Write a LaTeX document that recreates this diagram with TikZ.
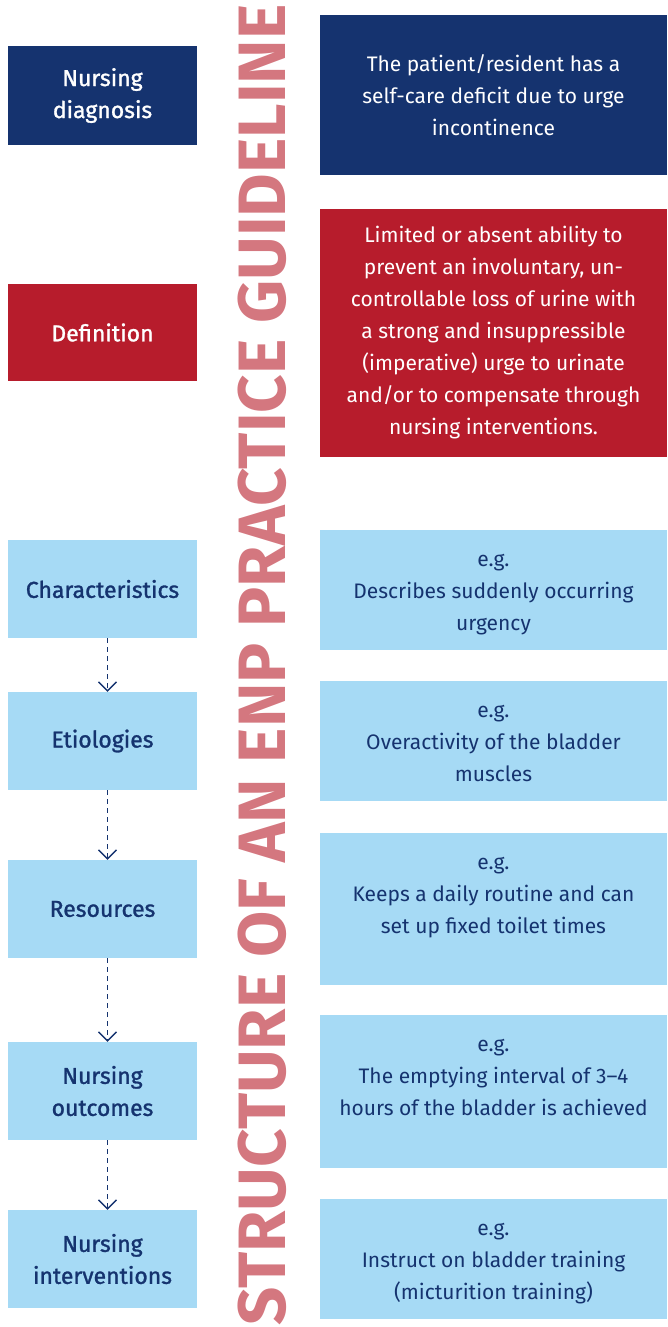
\documentclass[tikz,border=0pt]{standalone}
\usepackage{fontspec}
\setmainfont{Fira Sans}
\newfontfamily\medio{Fira Sans}[FakeBold=1.2]
\usetikzlibrary{arrows.meta, positioning}

\definecolor{navy}{HTML}{15336F}
\definecolor{rosso}{HTML}{B71C2C}
\definecolor{azzurro}{HTML}{A6DAF5}
\definecolor{rosa}{HTML}{D4777F}

\begin{document}
\begin{tikzpicture}[
            x=1pt, y=-1pt,
            >={Straight Barb[length=9pt, width=18pt, line width=1.3pt]},
            every node/.style={font=\fontsize{21}{32}\selectfont},
            voce/.style={rectangle, inner sep=0pt, minimum width=189pt, minimum height=98pt, align=center, font=\medio\fontsize{23}{32}\selectfont},
            voce_scura/.style={voce, fill=navy, text=white},
            voce_rossa/.style={voce, fill=rosso, text=white},
            voce_chiara/.style={voce, fill=azzurro, text=navy},
            blocco/.style={rectangle, inner sep=0pt, minimum width=347pt, align=center},
            esempio/.style={rectangle, inner sep=0pt, minimum width=347pt, minimum height=120pt, fill=azzurro},
            testo/.style={inner sep=0pt, align=center, text=navy, anchor=north},
            passo/.style={->, dashed, dash pattern=on 5pt off 4pt, line width=1.2pt, draw=navy}
        ]

        \useasboundingbox (0,0) rectangle (667,1327);

        % Titolo verticale
        \node[rotate=90, text=rosa, font=\fontsize{67}{67}\selectfont\bfseries] (titolo) at (262, 665) {STRUCTURE OF AN ENP PRACTICE GUIDELINE};

        % Colonna sinistra
        \node[voce_scura, minimum height=99pt] (diagnosi) at (102.5, 95.5) {Nursing\\diagnosis};
        \node[voce_rossa, minimum height=97pt] (definizione) at (102.5, 332.5) {Definition};
        \node[voce_chiara] (caratt) at (102.5, 589) {Characteristics};
        \node[voce_chiara] (eziol) at (102.5, 741) {Etiologies};
        \node[voce_chiara] (risorse) at (102.5, 909) {Resources};
        \node[voce_chiara] (esiti) at (102.5, 1091) {Nursing\\outcomes};
        \node[voce_chiara] (interv) at (102.5, 1259) {Nursing\\interventions};

        % Frecce tratteggiate
        \draw[passo] ([xshift=5pt]caratt.south) -- ([xshift=5pt]eziol.north);
        \draw[passo] ([xshift=5pt]eziol.south) -- ([xshift=5pt]risorse.north);
        \draw[passo] ([xshift=5pt]risorse.south) -- ([xshift=5pt]esiti.north);
        \draw[passo] ([xshift=5pt]esiti.south) -- ([xshift=5pt]interv.north);

        % Colonna destra
        \node[blocco, fill=navy, text=white, minimum height=160pt] (diagnosi_d) at (493.5, 95) {The patient/resident has a\\self-care deficit due to urge\\incontinence};
        \node[blocco, fill=rosso, text=white, minimum height=248pt] (definizione_d) at (493.5, 333) {Limited or absent ability to\\prevent an involuntary, un-\\controllable loss of urine with\\a strong and insuppressible\\(imperative) urge to urinate\\and/or to compensate through\\nursing interventions.};

        \node[esempio] (es1) at (493.5, 590) {};
        \node[esempio] (es2) at (493.5, 741) {};
        \node[esempio, minimum height=152pt] (es3) at (493.5, 909) {};
        \node[esempio, minimum height=153pt] (es4) at (493.5, 1091.5) {};
        \node[esempio] (es5) at (493.5, 1259) {};

        \node[testo] (es1t) at ([yshift=-24pt]es1.north) {e.g.\\Describes suddenly occurring\\urgency};
        \node[testo] (es2t) at ([yshift=-24pt]es2.north) {e.g.\\Overactivity of the bladder\\muscles};
        \node[testo] (es3t) at ([yshift=-24pt]es3.north) {e.g.\\Keeps a daily routine and can\\set up fixed toilet times};
        \node[testo] (es4t) at ([yshift=-24pt]es4.north) {e.g.\\The emptying interval of 3--4\\hours of the bladder is achieved};
        \node[testo] (es5t) at ([yshift=-24pt]es5.north) {e.g.\\Instruct on bladder training\\(micturition training)};

        \end{tikzpicture}
\end{document}
